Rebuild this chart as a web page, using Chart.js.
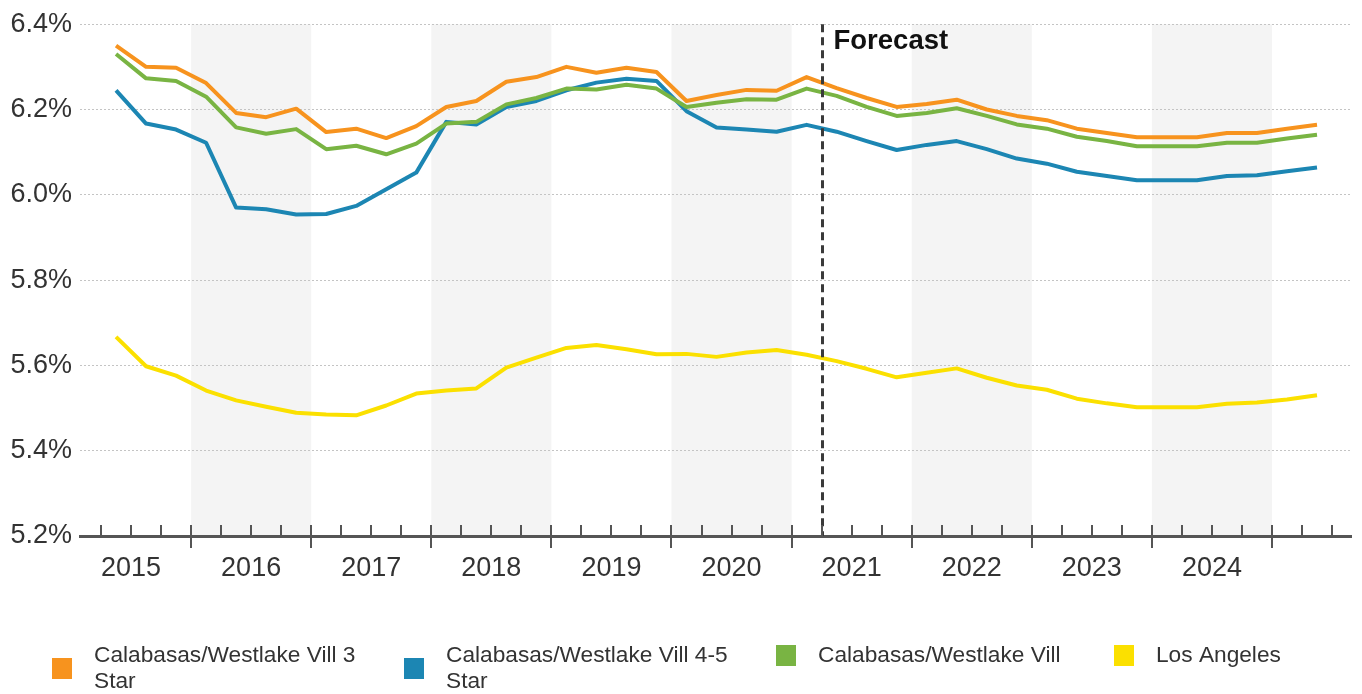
<!DOCTYPE html>
<html>
<head>
<meta charset="utf-8">
<title>Cap Rate Forecast</title>
<script src="https://cdn.jsdelivr.net/npm/chart.js@4.4.1/dist/chart.umd.min.js"></script>
<style>
  html, body { margin: 0; padding: 0; background: #ffffff; }
  #wrap { width: 1362px; height: 694px; position: relative; }
  canvas { display: block; }
</style>
</head>
<body>
<div id="wrap"><canvas id="chart" width="1362" height="694"></canvas></div>
<script>
// Quarterly periods on the x axis
const quarters = [
  '2015 Q2','2015 Q3','2015 Q4',
  '2016 Q1','2016 Q2','2016 Q3','2016 Q4',
  '2017 Q1','2017 Q2','2017 Q3','2017 Q4',
  '2018 Q1','2018 Q2','2018 Q3','2018 Q4',
  '2019 Q1','2019 Q2','2019 Q3','2019 Q4',
  '2020 Q1','2020 Q2','2020 Q3','2020 Q4',
  '2021 Q1','2021 Q2','2021 Q3','2021 Q4',
  '2022 Q1','2022 Q2','2022 Q3','2022 Q4',
  '2023 Q1','2023 Q2','2023 Q3','2023 Q4',
  '2024 Q1','2024 Q2','2024 Q3','2024 Q4',
  '2025 Q1','2025 Q2'
];

// Cap rates (%)
const westlake3Star = [
  6.350, 6.300, 6.298,
  6.262, 6.192, 6.182, 6.202,
  6.147, 6.155, 6.133, 6.161,
  6.206, 6.220, 6.265, 6.276,
  6.300, 6.286, 6.298, 6.288,
  6.220, 6.234, 6.246, 6.244,
  6.276, 6.250, 6.227, 6.206,
  6.213, 6.223, 6.200, 6.185,
  6.175, 6.155, 6.145, 6.135,
  6.135, 6.135, 6.145, 6.145,
  6.155, 6.164
];

const westlake45Star = [
  6.245, 6.167, 6.153,
  6.122, 5.970, 5.966, 5.954,
  5.955, 5.974, 6.013, 6.052,
  6.171, 6.165, 6.206, 6.220,
  6.245, 6.263, 6.272, 6.267,
  6.196, 6.158, 6.153, 6.148,
  6.164, 6.148, 6.126, 6.105,
  6.117, 6.126, 6.107, 6.085,
  6.073, 6.054, 6.044, 6.034,
  6.034, 6.034, 6.044, 6.046,
  6.055, 6.064
];

const westlakeAll = [
  6.330, 6.273, 6.267,
  6.230, 6.158, 6.143, 6.154,
  6.107, 6.115, 6.095, 6.120,
  6.167, 6.171, 6.212, 6.227,
  6.249, 6.247, 6.258, 6.249,
  6.206, 6.216, 6.224, 6.223,
  6.249, 6.232, 6.206, 6.185,
  6.192, 6.203, 6.185, 6.165,
  6.155, 6.136, 6.126, 6.114,
  6.114, 6.114, 6.122, 6.122,
  6.132, 6.141
];

const losAngeles = [
  5.667, 5.598, 5.576,
  5.541, 5.518, 5.503, 5.489,
  5.485, 5.483, 5.506, 5.534,
  5.541, 5.546, 5.595, 5.618,
  5.641, 5.648, 5.638, 5.626,
  5.627, 5.620, 5.630, 5.636,
  5.625, 5.610, 5.592, 5.572,
  5.583, 5.593, 5.571, 5.553,
  5.543, 5.522, 5.511, 5.502,
  5.502, 5.502, 5.510, 5.513,
  5.520, 5.530
];

const seriesNames = [
  'Calabasas/Westlake Vill 3 Star',
  'Calabasas/Westlake Vill 4-5 Star',
  'Calabasas/Westlake Vill',
  'Los Angeles'
];
// Legend text split into rows
const legendRows = [
  ['Calabasas/Westlake Vill 3', 'Star'],
  ['Calabasas/Westlake Vill 4-5', 'Star'],
  ['Calabasas/Westlake Vill'],
  ['Los Angeles']
];
const seriesColors = ['#F7931E', '#1C86B3', '#79B443', '#FBE000'];

const yearLabels = ['2015','2016','2017','2018','2019','2020','2021','2022','2023','2024'];
const yTicks = [5.2, 5.4, 5.6, 5.8, 6.0, 6.2, 6.4];
const forecastStart = '2021 Q2';
const forecastText = 'Forecast';

// Position of a quarter on a continuous year axis
function quarterStart(label) {
  const [y, q] = label.split(' Q');
  return Number(y) + (Number(q) - 1) / 4;
}
function quarterCentre(label) { return quarterStart(label) + 0.125; }

function toPoints(values) {
  return values.map((v, i) => ({ x: quarterCentre(quarters[i]), y: v }));
}

const FONT = '"Liberation Sans", Arial, Helvetica, sans-serif';
Chart.defaults.font.family = FONT;

const seriesValues = [westlake3Star, westlake45Star, westlakeAll, losAngeles];
const datasets = seriesValues.map((vals, i) => ({
  label: seriesNames[i],
  data: toPoints(vals),
  borderColor: seriesColors[i],
  backgroundColor: seriesColors[i],
  borderWidth: 4,
  pointRadius: 0,
  tension: 0,
  fill: false,
  borderJoinStyle: 'round',
  borderCapStyle: 'butt',
  order: [3, 4, 2, 1][i]
}));

const firstX = quarterCentre(quarters[0]);
const lastX = quarterCentre(quarters[quarters.length - 1]);

// Decorations: alternating year bands, quarter tick marks, forecast divider, legend
const decor = {
  id: 'decor',
  beforeDraw(chart) {
    const { ctx, chartArea: a, scales: { x } } = chart;
    ctx.save();
    ctx.fillStyle = '#ffffff';
    ctx.fillRect(0, 0, chart.width, chart.height);
    ctx.fillStyle = '#f4f4f4';
    yearLabels.forEach((yl, i) => {
      if (i % 2 !== 1) return;
      const x1 = Math.max(a.left, x.getPixelForValue(Number(yl)));
      const x2 = Math.min(a.right, x.getPixelForValue(Number(yl) + 1));
      ctx.fillRect(x1, a.top, x2 - x1, a.bottom - a.top);
    });
    ctx.restore();
  },
  afterDatasetsDraw(chart) {
    const { ctx, chartArea: a, scales: { x } } = chart;
    const fx = Math.round(x.getPixelForValue(quarterStart(forecastStart))) + 0.5;
    ctx.save();
    ctx.strokeStyle = '#3a3a3a';
    ctx.lineWidth = 3;
    ctx.setLineDash([8, 5]);
    ctx.beginPath();
    ctx.moveTo(fx, a.top);
    ctx.lineTo(fx, a.bottom);
    ctx.stroke();
    ctx.setLineDash([]);
    ctx.fillStyle = '#111111';
    ctx.font = 'bold 27.5px ' + FONT;
    ctx.textBaseline = 'alphabetic';
    ctx.textAlign = 'left';
    ctx.fillText(forecastText, fx + 11, a.top + 25);
    ctx.restore();
  },
  afterDraw(chart) {
    const { ctx, chartArea: a, scales: { x } } = chart;
    ctx.save();
    // quarter / year tick marks on the time axis
    ctx.strokeStyle = '#555555';
    ctx.lineWidth = 2;
    const startYear = Number(yearLabels[0]);
    for (let n = 1; ; n++) {
      const v = startYear + n / 4;
      const px = x.getPixelForValue(v);
      if (px > a.right - 2) break;
      if (px < a.left) continue;
      const major = n % 4 === 0;
      const rx = Math.round(px);
      ctx.beginPath();
      ctx.moveTo(rx, a.bottom - 11);
      ctx.lineTo(rx, major ? a.bottom + 12 : a.bottom);
      ctx.stroke();
    }
    // legend
    const slots = [52, 404, 776, 1114];
    ctx.font = '22.7px ' + FONT;
    ctx.textBaseline = 'alphabetic';
    ctx.textAlign = 'left';
    const base1 = 662, lineGap = 26;
    legendRows.forEach((rows, i) => {
      const sx = slots[i];
      const midY = rows.length > 1 ? base1 - 7 + lineGap / 2 : base1 - 7;
      ctx.fillStyle = seriesColors[i];
      ctx.fillRect(sx, Math.round(midY - 10), 20, 21);
      ctx.fillStyle = '#333333';
      rows.forEach((r, j) => ctx.fillText(r, sx + 42, base1 + j * lineGap));
    });
    ctx.restore();
  }
};

new Chart(document.getElementById('chart'), {
  type: 'line',
  data: { datasets },
  plugins: [decor],
  options: {
    responsive: false,
    animation: false,
    devicePixelRatio: 1,
    layout: { padding: { top: 22, right: 11, left: 0, bottom: 0 } },
    plugins: { legend: { display: false }, tooltip: { enabled: false } },
    scales: {
      x: {
        type: 'linear',
        min: firstX - 0.3,
        max: lastX + 0.283,
        afterBuildTicks(scale) {
          scale.ticks = yearLabels.map(y => ({ value: Number(y) + 0.5 }));
        },
        afterFit(scale) { scale.height = 158; },
        ticks: {
          autoSkip: false,
          maxRotation: 0,
          padding: 8,
          color: '#333333',
          font: { size: 27 },
          callback: (v) => String(Math.floor(v))
        },
        grid: { display: false },
        border: { display: true, color: '#555555', width: 3 }
      },
      y: {
        min: yTicks[0],
        max: yTicks[yTicks.length - 1],
        afterBuildTicks(scale) {
          scale.ticks = yTicks.map(v => ({ value: v }));
        },
        afterFit(scale) { scale.width = 80; },
        ticks: {
          padding: 8,
          color: '#333333',
          font: { size: 27 },
          callback: (v) => Number(v).toFixed(1) + '%'
        },
        grid: { color: '#c4c4c4', lineWidth: 1, drawTicks: false },
        border: { display: false, dash: [2, 2] }
      }
    }
  }
});
</script>
</body>
</html>
